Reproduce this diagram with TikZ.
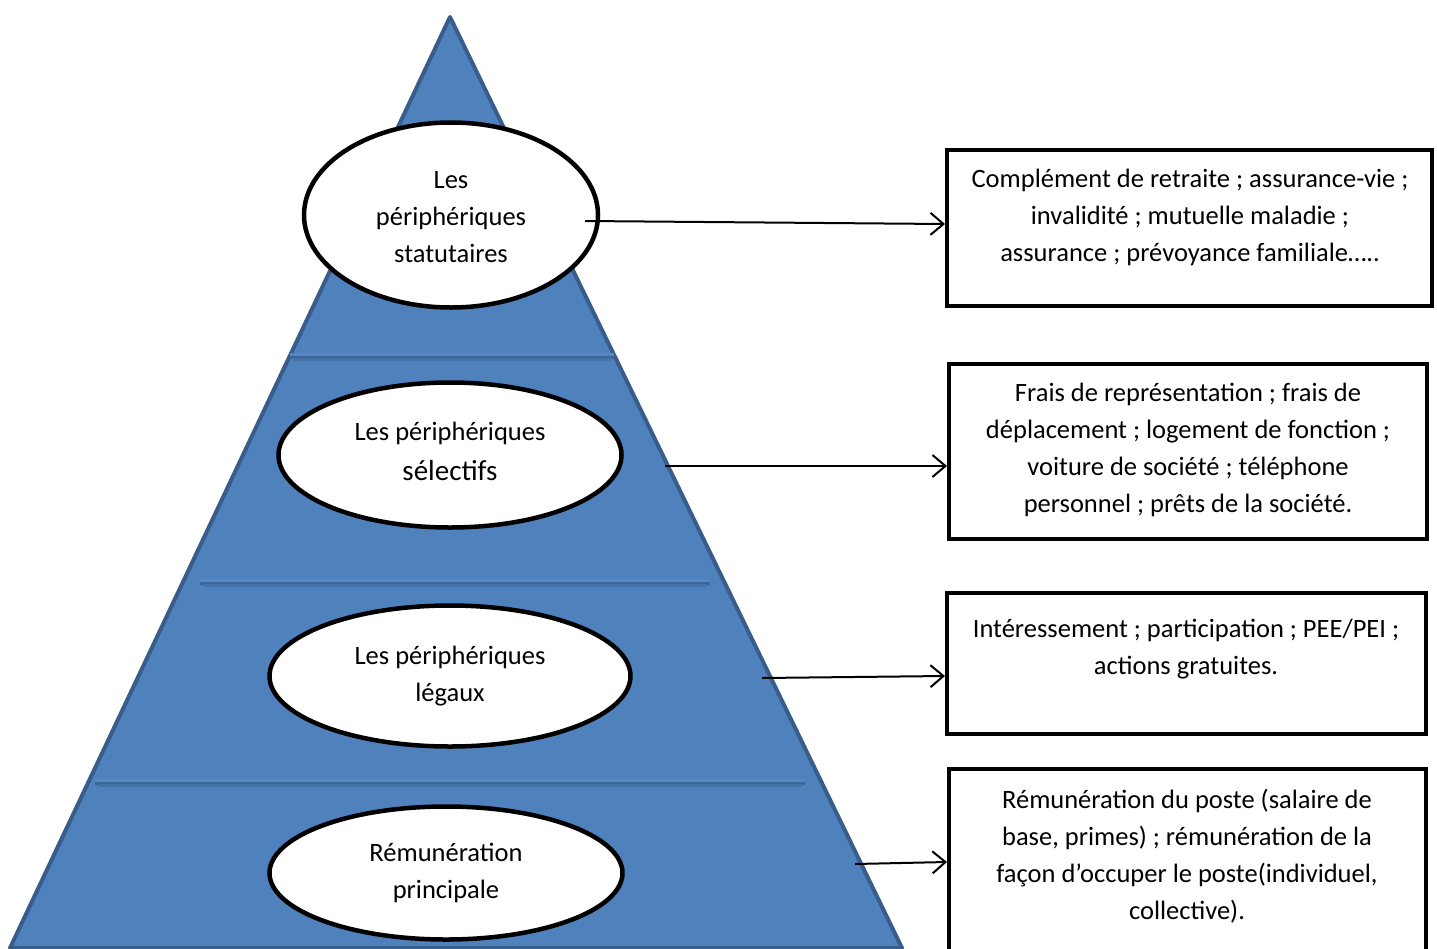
\documentclass[tikz,border=0pt]{standalone}
\usepackage{fontspec}
\setmainfont{Carlito}
\usetikzlibrary{arrows.meta,shapes.geometric}
\definecolor{pyrfill}{HTML}{4F81BD}
\definecolor{pyrline}{HTML}{385D8A}
\definecolor{pyrshade}{HTML}{3C6597}
\definecolor{pyrlight}{HTML}{5687C5}

\begin{document}
\begin{tikzpicture}[x=1pt,y=-1pt,
  lbl/.style={font=\fontsize{26.5}{37}\selectfont, align=center, inner sep=0pt},
  oval/.style={ellipse, draw=black, line width=4.5pt, fill=white, inner sep=0pt, lbl},
  infobox/.style={rectangle, draw=black, line width=4pt, fill=white, inner sep=0pt},
  link/.style={line width=2pt, -{Straight Barb[length=13pt,width=22pt,line width=2pt]}}]
\useasboundingbox (0,0) rectangle (1437,948);

% pyramid body
\path[fill=pyrfill, draw=pyrline, line width=4pt, line join=round]
  (450,17) -- (902,948) -- (10,948) -- cycle;

% level dividers: light edge, dark line, soft shadow
\foreach \yy/\xa/\xb in {357/290/614, 583/200/710, 783/95/805}{
  \draw[pyrlight, line width=3pt] (\xa,\yy-3) -- (\xb,\yy-3);
  \draw[pyrshade, line width=3pt] (\xa,\yy) -- (\xb,\yy);
  \draw[pyrshade!55!pyrfill, line width=2.5pt] (\xa+3,\yy+2.5) -- (\xb-3,\yy+2.5);
}

% levels of the pyramid
\node[oval, minimum width=294pt, minimum height=185pt] (e1) at (451,215) {};
\node[lbl] (l1) at (451,217.5) {Les\\périphériques\\statutaires};
\node[oval, minimum width=343pt, minimum height=145pt] (e2) at (450,455) {};
\node[lbl] (l2) at (450,451)
  {Les périphériques\\[3pt]{\fontsize{29}{39}\selectfont sélectifs}};
\node[oval, minimum width=361pt, minimum height=141pt] (e3) at (450,676)
  {Les périphériques\\légaux};
\node[oval, minimum width=353pt, minimum height=133pt] (e4) at (446,873)
  {Rémunération\\principale};

% detail boxes
\node[infobox, minimum width=485pt, minimum height=156pt] (b1) at (1189.5,228) {};
\node[infobox, minimum width=478pt, minimum height=175pt] (b2) at (1188,451.5) {};
\node[infobox, minimum width=479pt, minimum height=141pt] (b3) at (1186.5,663.5) {};
\node[infobox, minimum width=477pt, minimum height=240pt] (b4) at (1187.5,889) {};

\node[lbl] (t1) at (1190,217)
  {Complément de retraite ; assurance-vie ;\\invalidité ; mutuelle maladie ;\\assurance ; prévoyance familiale…..};
\node[lbl] (t2) at (1188,449.5)
  {Frais de représentation ; frais de\\déplacement ; logement de fonction ;\\voiture de société ; téléphone\\personnel ; prêts de la société.};
\node[lbl] (t3) at (1186,649.5)
  {Intéressement ; participation ; PEE/PEI ;\\actions gratuites.};
\node[lbl] (t4) at (1187,856)
  {Rémunération du poste (salaire de\\base, primes) ; rémunération de la\\façon d’occuper le poste(individuel,\\collective).};

% connectors
\coordinate (s1) at (585,221);
\coordinate (s2) at (665,466);
\coordinate (s3) at (762,678);
\coordinate (s4) at (855,864);
\draw[link] (s1) -- ([yshift=4pt]b1.west);
\draw[link] (s2) -- ([yshift=-14.5pt]b2.west);
\draw[link] (s3) -- ([yshift=-12.5pt]b3.west);
\draw[link] (s4) -- ([yshift=27pt]b4.west);
\end{tikzpicture}
\end{document}
